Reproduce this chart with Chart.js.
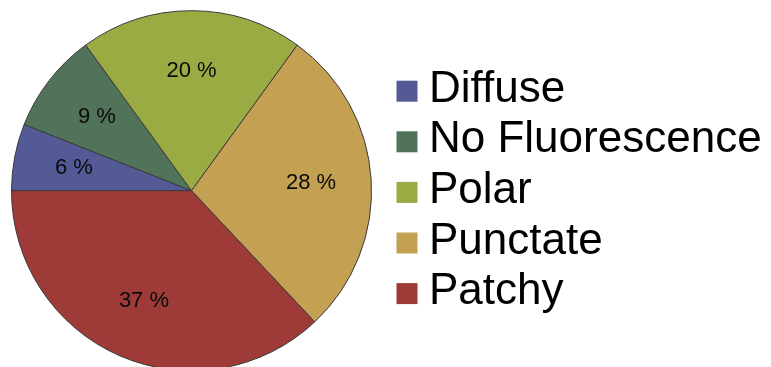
<!DOCTYPE html>
<html>
<head>
<meta charset="utf-8">
<script src="https://cdn.jsdelivr.net/npm/chart.js@4.4.1/dist/chart.umd.min.js"></script>
<style>
  html, body { margin: 0; padding: 0; background: #ffffff; overflow: hidden; }
  #wrap { position: relative; width: 771px; height: 381px; }
</style>
</head>
<body>
<div id="wrap"><canvas id="chart"></canvas></div>
<script>
// Localization pattern shares (percent of cells)
const categories = ['Diffuse', 'No Fluorescence', 'Polar', 'Punctate', 'Patchy'];
const shares = [6, 9, 20, 28, 37];
const sliceColors = ['#535A96', '#50735A', '#9BAB43', '#C4A052', '#9E3B38'];

// Percentage text inside each slice, placed at two-thirds of the radius
const sliceLabels = {
  id: 'sliceLabels',
  afterDatasetsDraw(chart) {
    const ctx = chart.ctx;
    const meta = chart.getDatasetMeta(0);
    ctx.save();
    ctx.font = '22px "Liberation Sans", Arial, sans-serif';
    ctx.fillStyle = '#0a0a0a';
    ctx.textAlign = 'center';
    ctx.textBaseline = 'middle';
    meta.data.forEach((arc, i) => {
      const p = arc.getProps(['x', 'y', 'startAngle', 'endAngle', 'outerRadius'], true);
      const mid = (p.startAngle + p.endAngle) / 2;
      const r = p.outerRadius * 0.665;
      ctx.fillText(shares[i] + ' %', p.x + Math.cos(mid) * r, p.y + Math.sin(mid) * r);
    });
    ctx.restore();
  }
};

// Legend column to the right of the pie
const sideLegend = {
  id: 'sideLegend',
  afterDraw(chart) {
    const ctx = chart.ctx;
    const colors = chart.data.datasets[0].backgroundColor;
    const x0 = 396.5, textX = 429, firstBase = 101.7, step = 50.6, box = 21;
    ctx.save();
    ctx.font = '44px "Liberation Sans", Arial, sans-serif';
    ctx.textBaseline = 'alphabetic';
    ctx.textAlign = 'left';
    chart.data.labels.forEach((label, i) => {
      const base = firstBase + step * i;
      ctx.fillStyle = colors[i];
      ctx.fillRect(x0, base - box, box, box);
      ctx.fillStyle = '#000000';
      ctx.fillText(label, textX, base);
    });
    ctx.restore();
  }
};

new Chart(document.getElementById('chart'), {
  type: 'pie',
  data: {
    labels: categories,
    datasets: [{
      data: shares,
      backgroundColor: sliceColors,
      borderColor: '#3a3a3a',
      borderWidth: 1
    }]
  },
  options: {
    responsive: true,
    maintainAspectRatio: false,
    animation: false,
    rotation: 270,
    radius: 180,
    layout: { padding: { left: 11.5, top: 10.7, right: 399.5, bottom: 10.3 } },
    plugins: {
      legend: { display: false },
      tooltip: { enabled: false }
    }
  },
  plugins: [sliceLabels, sideLegend]
});
</script>
</body>
</html>
